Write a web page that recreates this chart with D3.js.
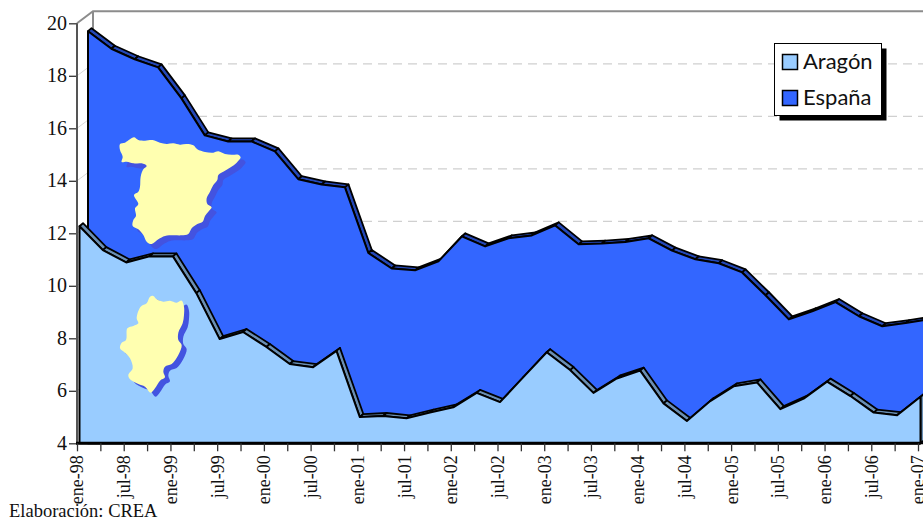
<!DOCTYPE html>
<html>
<head>
<meta charset="utf-8">
<script src="https://cdn.jsdelivr.net/npm/d3@7"></script>
<style>
html, body { margin: 0; padding: 0; background: #fff; }
svg { display: block; }
text { fill: #111; }
.axis text { font-family: "Liberation Serif", serif; }
.axis path { display: none; }
</style>
</head>
<body>
<svg id="chart"></svg>
<script>
// quarterly, ene-98 to ene-07
const categories = ['ene-98', 'abr-98', 'jul-98', 'oct-98', 'ene-99', 'abr-99', 'jul-99', 'oct-99',
    'ene-00', 'abr-00', 'jul-00', 'oct-00', 'ene-01', 'abr-01', 'jul-01', 'oct-01',
    'ene-02', 'abr-02', 'jul-02', 'oct-02', 'ene-03', 'abr-03', 'jul-03', 'oct-03',
    'ene-04', 'abr-04', 'jul-04', 'oct-04', 'ene-05', 'abr-05', 'jul-05', 'oct-05',
    'ene-06', 'abr-06', 'jul-06', 'oct-06', 'ene-07'];
const aragon = [12.27, 11.36, 10.89, 11.12, 11.12, 9.72, 7.97, 8.24, 7.67, 7.02, 6.9, 7.52,
    5.0, 5.04, 4.95, 5.17, 5.37, 5.92, 5.57, 6.52, 7.47, 6.79, 5.92, 6.47,
    6.77, 5.52, 4.85, 5.61, 6.17, 6.32, 5.3, 5.7, 6.35, 5.8, 5.17, 5.07, 5.77];
const espana = [19.7, 19.03, 18.63, 18.32, 17.14, 15.73, 15.5, 15.5, 15.12, 14.06, 13.86, 13.75,
    11.25, 10.66, 10.59, 10.93, 11.88, 11.5, 11.81, 11.92, 12.3, 11.58, 11.61, 11.67,
    11.81, 11.34, 11.01, 10.86, 10.51, 9.64, 8.72, 9.03, 9.38, 8.84, 8.46, 8.58, 8.72];
const yTicks = [4, 6, 8, 10, 12, 14, 16, 18, 20];

// map outlines, in their own local units
const spainOutline = [[30,42],[45,38],[60,28],[72,22],[85,30],[105,32],[128,30],[150,38],[170,42],[190,40],[210,44],[230,42],[250,46],[262,58],[285,66],[310,68],[325,64],[345,72],[365,74],[385,74],[392,82],[380,98],[362,112],[345,122],[325,135],[322,150],[310,165],[300,185],[290,205],[292,222],[305,232],[295,245],[285,258],[278,275],[262,282],[245,295],[235,312],[215,316],[190,316],[165,318],[145,328],[125,342],[110,335],[100,315],[85,298],[68,288],[70,270],[78,258],[75,235],[85,222],[72,195],[85,185],[90,170],[92,140],[100,118],[110,108],[95,100],[70,100],[50,95],[35,96],[38,80],[30,60]];
const aragonOutline = [[120,20],[130,18],[140,28],[160,35],[180,32],[200,38],[215,32],[222,50],[222,75],[218,100],[205,128],[205,150],[215,165],[205,195],[185,222],[165,230],[160,245],[165,262],[150,272],[135,295],[122,308],[105,290],[85,282],[60,268],[55,255],[68,235],[60,205],[45,188],[30,175],[35,158],[48,150],[52,115],[70,108],[85,100],[80,85],[92,50],[110,40]];

const width = 923, height = 519;
const wall = { dx: 16, dy: -12 };
const band = { dx: 3.5, dy: -3 };

const x = d3.scaleLinear().domain([0, categories.length - 1]).range([77, 918]);
const y = d3.scaleLinear().domain([4, 20]).range([443.3, 23.3]);

const svg = d3.select('#chart').attr('width', width).attr('height', height);

function drawWall() {
    const g = svg.append('g');
    g.selectAll('.grid').data(yTicks.slice(1, -1)).join('line')
        .attr('class', 'grid')
        .attr('x1', x(0) + wall.dx).attr('x2', width)
        .attr('y1', d => y(d) + wall.dy).attr('y2', d => y(d) + wall.dy)
        .attr('stroke', '#d0d0d0').attr('stroke-width', 1.2)
        .attr('stroke-dasharray', '9 6');
    g.selectAll('.side').data(yTicks.slice(1, -1)).join('line')
        .attr('class', 'side')
        .attr('x1', x(0)).attr('x2', x(0) + wall.dx)
        .attr('y1', d => y(d)).attr('y2', d => y(d) + wall.dy)
        .attr('stroke', '#d8d8d8');
    const frame = d3.path();
    frame.moveTo(x(0), y(20));
    frame.lineTo(x(0) + wall.dx, y(20) + wall.dy);
    frame.lineTo(width, y(20) + wall.dy);
    frame.moveTo(x(0) + wall.dx, y(20) + wall.dy);
    frame.lineTo(x(0) + wall.dx, y(10));
    g.append('path').attr('d', frame.toString())
        .attr('fill', 'none').attr('stroke', '#8c8c8c').attr('stroke-width', 2);
}

function drawSeries(values, offset, fill, bandFill) {
    const g = svg.append('g').attr('transform', 'translate(' + offset + ',0)');
    const last = values.length - 1;

    // top faces, one quad per segment
    g.selectAll('.face').data(d3.range(last)).join('polygon')
        .attr('class', 'face')
        .attr('points', i => [
            [x(i), y(values[i])],
            [x(i + 1), y(values[i + 1])],
            [x(i + 1) + band.dx, y(values[i + 1]) + band.dy],
            [x(i) + band.dx, y(values[i]) + band.dy]
        ].join(' '))
        .attr('fill', bandFill).attr('stroke', '#000').attr('stroke-width', 1.8)
        .attr('stroke-linejoin', 'round');

    // side face at the right end
    g.append('polygon')
        .attr('points', [
            [x(last), y(values[last])],
            [x(last) + band.dx, y(values[last]) + band.dy],
            [x(last) + band.dx, y(4) + band.dy],
            [x(last), y(4)]
        ].join(' '))
        .attr('fill', bandFill).attr('stroke', '#000').attr('stroke-width', 1.8);

    const area = d3.area().x((d, i) => x(i)).y0(y(4)).y1(d => y(d));
    g.append('path').datum(values).attr('d', area)
        .attr('fill', fill).attr('stroke', '#000').attr('stroke-width', 2)
        .attr('stroke-linejoin', 'round');
}

function drawMap(outline, tx, ty, dx, dy) {
    const line = d3.line().curve(d3.curveCatmullRomClosed);
    const g = svg.append('g').attr('transform', 'translate(' + tx + ',' + ty + ') scale(' + (1 / 3) + ')');
    g.append('path').attr('d', line(outline))
        .attr('transform', 'translate(' + dx * 3 + ',' + dy * 3 + ')')
        .attr('fill', '#4353e0');
    g.append('path').attr('d', line(outline)).attr('fill', '#ffffb0');
}

function drawAxes() {
    const yAxis = d3.axisLeft(y).tickValues(yTicks).tickSize(8).tickPadding(2);
    const yGroup = svg.append('g').attr('class', 'axis')
        .attr('transform', 'translate(' + x(0) + ',0)')
        .call(yAxis);
    yGroup.selectAll('line').attr('stroke', '#333').attr('stroke-width', 1.3);
    yGroup.selectAll('text').attr('font-size', 20).attr('dy', '0.3em');

    svg.append('line')
        .attr('x1', x(0)).attr('x2', x(0))
        .attr('y1', y(20)).attr('y2', y(4))
        .attr('stroke', '#555').attr('stroke-width', 2);
    svg.append('line')
        .attr('x1', x(0) - 1).attr('x2', x(categories.length - 1) + 2)
        .attr('y1', y(4)).attr('y2', y(4))
        .attr('stroke', '#000').attr('stroke-width', 3);

    const xAxis = d3.axisBottom(x).tickValues(d3.range(categories.length)).tickSize(8)
        .tickFormat(i => i % 2 === 0 ? categories[i] : '');
    const xGroup = svg.append('g').attr('class', 'axis')
        .attr('transform', 'translate(0,' + y(4) + ')')
        .call(xAxis);
    xGroup.selectAll('line').attr('stroke', '#333').attr('stroke-width', 1.3);
    xGroup.selectAll('text')
        .attr('font-size', 18)
        .attr('text-anchor', 'end')
        .attr('transform', 'rotate(-90)')
        .attr('x', -12).attr('y', 0).attr('dy', '0.33em');
}

function drawLegend() {
    const g = svg.append('g').attr('transform', 'translate(774.5,43.5)');
    g.append('rect').attr('x', 5).attr('y', 5).attr('width', 107).attr('height', 72).attr('fill', '#000');
    g.append('rect').attr('width', 107).attr('height', 72)
        .attr('fill', '#fff').attr('stroke', '#000');
    const items = [['Aragón', '#99ccff', 11], ['España', '#3366ff', 47]];
    items.forEach(d => {
        g.append('rect').attr('x', 8).attr('y', d[2]).attr('width', 15).attr('height', 15)
            .attr('fill', d[1]).attr('stroke', '#000').attr('stroke-width', 1.5);
        g.append('text').attr('x', 28.5).attr('y', d[2] + 14)
            .attr('font-family', 'Lato, sans-serif').attr('font-size', 22)
            .text(d[0]);
    });
}

drawWall();
drawSeries(espana, 11, '#3366ff', '#2448b8');
drawSeries(aragon, 2.5, '#99ccff', '#6a8fb4');
drawAxes();
drawMap(spainOutline, 110, 130, 5, 5);
drawMap(aragonOutline, 110, 290, 5, 4);
drawLegend();

svg.append('text').attr('x', 9).attr('y', 516.5)
    .attr('font-family', '"Liberation Serif", serif').attr('font-size', 18.5)
    .text('Elaboración: CREA');
</script>
</body>
</html>
